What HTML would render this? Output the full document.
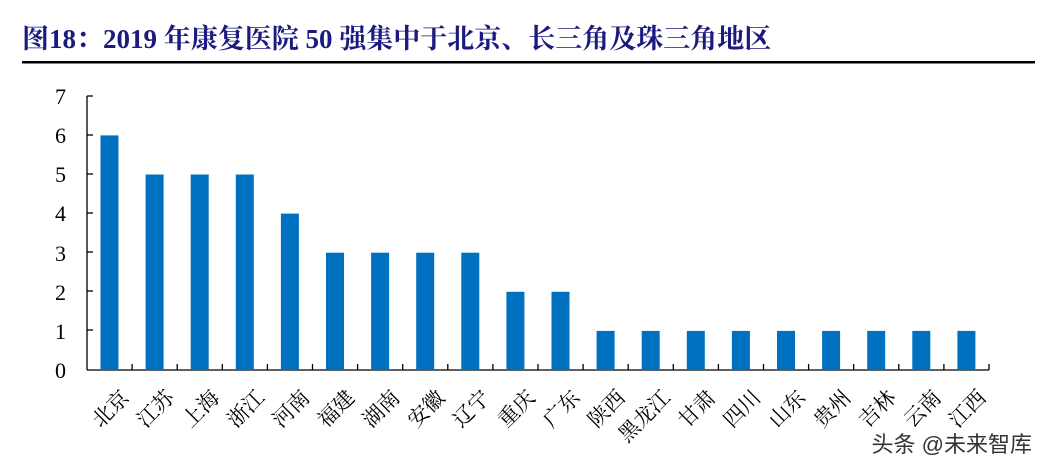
<!DOCTYPE html>
<html><head><meta charset="utf-8"><style>
html,body{margin:0;padding:0;background:#fff;width:1043px;height:470px;overflow:hidden}
</style></head><body>
<svg width="1043" height="470" xmlns="http://www.w3.org/2000/svg">
<text x="22" y="48" font-family="Liberation Serif, Noto Serif CJK SC, serif" font-weight="bold" font-size="27" fill="#1a1a80">图18：2019 年康复医院 50 强集中于北京、长三角及珠三角地区</text>
<rect x="22" y="61" width="1013" height="2.5" fill="#000"/>
<g font-family="Liberation Serif, serif" font-size="22" fill="#000" text-anchor="end">
<text x="66" y="104">7</text><text x="66" y="143">6</text><text x="66" y="182">5</text><text x="66" y="221">4</text><text x="66" y="261">3</text><text x="66" y="300">2</text><text x="66" y="339">1</text><text x="66" y="378">0</text>
</g>
<g stroke="#000" stroke-width="1.3">
<line x1="87" y1="96" x2="87" y2="370"/>
<line x1="87" y1="370" x2="989" y2="370"/>
<line x1="87" y1="96" x2="93" y2="96"/><line x1="87" y1="135" x2="93" y2="135"/><line x1="87" y1="174" x2="93" y2="174"/><line x1="87" y1="213" x2="93" y2="213"/><line x1="87" y1="252" x2="93" y2="252"/><line x1="87" y1="291" x2="93" y2="291"/><line x1="87" y1="330" x2="93" y2="330"/>
</g>
<g id="bars" fill="#0070c0"></g>
<g id="ticks" stroke="#000" stroke-width="1.3"></g>
<g id="labels" font-family="Noto Serif CJK SC, serif" font-size="21" fill="#000" text-anchor="end"></g>
<text x="1032" y="452" text-anchor="end" font-family="Liberation Sans, Noto Sans CJK SC, sans-serif" font-size="22" fill="#333">头条 @未来智库</text>
</svg>
<script>
var v=[6,5,5,5,4,3,3,3,3,2,2,1,1,1,1,1,1,1,1,1];
var n=["北京","江苏","上海","浙江","河南","福建","湖南","安徽","辽宁","重庆","广东","陕西","黑龙江","甘肃","四川","山东","贵州","吉林","云南","江西"];
var ns="http://www.w3.org/2000/svg",b=document.getElementById("bars"),t=document.getElementById("ticks"),l=document.getElementById("labels");
for(var i=0;i<20;i++){var c=87+45.1*i+22.5;var h=v[i]*39.1;
var r=document.createElementNS(ns,"rect");r.setAttribute("x",c-9);r.setAttribute("y",370-h);r.setAttribute("width",18);r.setAttribute("height",h);b.appendChild(r);
var k=document.createElementNS(ns,"line");var tx=87+45.1*(i+1);k.setAttribute("x1",tx);k.setAttribute("x2",tx);k.setAttribute("y1",364);k.setAttribute("y2",370);t.appendChild(k);
var s=document.createElementNS(ns,"text");var x=c+9,y=387;s.setAttribute("transform","translate("+x+","+y+") rotate(-45)");s.setAttribute("dy","0.8em");s.textContent=n[i];l.appendChild(s);}
</script>
</body></html>
